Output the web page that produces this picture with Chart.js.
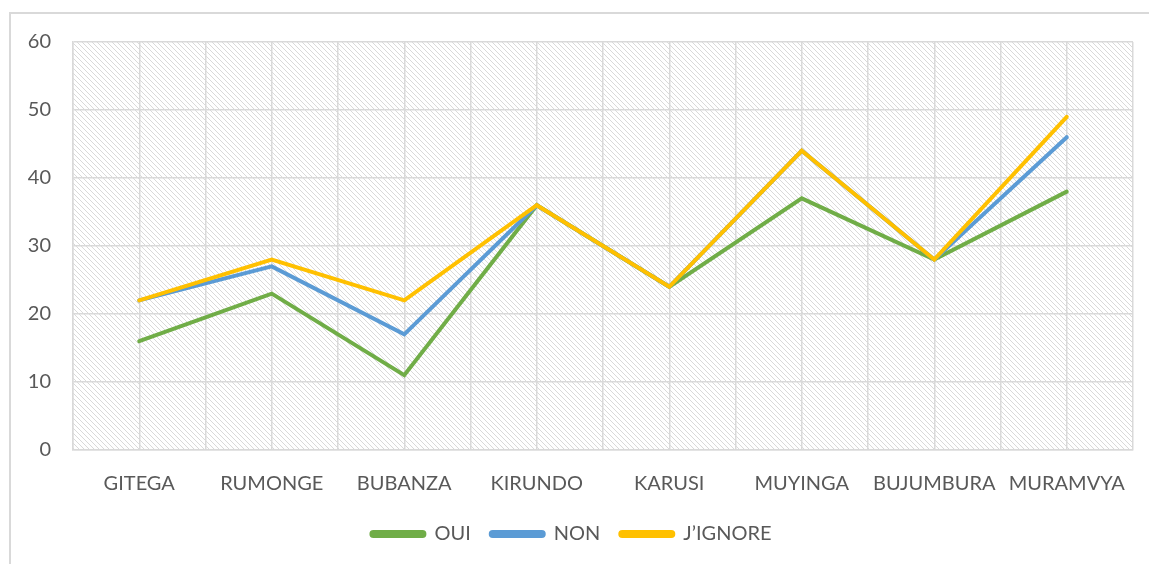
<!DOCTYPE html>
<html>
<head>
<meta charset="utf-8">
<script src="https://cdn.jsdelivr.net/npm/chart.js@4.4.1/dist/chart.umd.min.js"></script>
<style>
html,body{margin:0;padding:0;background:#fff;}
#wrap{width:1149px;height:564px;position:relative;}
</style>
</head>
<body>
<div id="wrap"><canvas id="c" width="1149" height="564"></canvas></div>
<script>
const categories = ["GITEGA","RUMONGE","BUBANZA","KIRUNDO","KARUSI","MUYINGA","BUJUMBURA","MURAMVYA"];
const seriesNames = ["OUI","NON","J\u2019IGNORE"];
const ouiValues = [16,23,11,36,24,37,28,38];
const nonValues = [22,27,17,36,24,44,28,46];
const ignoreValues = [22,28,22,36,24,44,28,49];
const seriesColors = ["#70AD47","#5B9BD5","#FFC000"];
const yTicks = [0,10,20,30,40,50,60];

function toPoints(arr){ return arr.map((v,i)=>({x:i,y:v})); }

function makePattern(){
  const s = 5;
  const p = document.createElement('canvas');
  p.width = s; p.height = s;
  const g = p.getContext('2d');
  g.fillStyle = '#ffffff'; g.fillRect(0,0,s,s);
  g.strokeStyle = '#d9d9d9'; g.lineWidth = 1;
  g.beginPath();
  g.moveTo(-1,-1); g.lineTo(s+1,s+1);
  g.moveTo(-1,s-1); g.lineTo(1,s+1);
  g.moveTo(s-1,-1); g.lineTo(s+1,1);
  g.stroke();
  return p;
}

const bgPlugin = {
  id:'bg',
  beforeDraw(chart){
    const {ctx, chartArea:a} = chart;
    ctx.save();
    ctx.fillStyle = '#fff'; ctx.fillRect(0,0,chart.width,chart.height);
    ctx.strokeStyle = '#d9d9d9'; ctx.lineWidth = 2;
    ctx.beginPath();
    ctx.moveTo(10,chart.height+2); ctx.lineTo(10,13); ctx.lineTo(chart.width+2,13);
    ctx.stroke();
    ctx.fillStyle = ctx.createPattern(makePattern(),'repeat');
    ctx.fillRect(a.left,a.top,a.right-a.left,a.bottom-a.top);
    ctx.restore();
  }
};

const datasets = [ouiValues,nonValues,ignoreValues].map((arr,k)=>({
  label: seriesNames[k],
  data: toPoints(arr),
  borderColor: seriesColors[k],
  backgroundColor: seriesColors[k],
  borderWidth: 4,
  pointRadius: 0,
  tension: 0,
  order: 2-k,
  borderCapStyle:'round',
  borderJoinStyle:'miter'
}));

const font = {family:'Lato, "Open Sans", sans-serif', size:20};

new Chart(document.getElementById('c'),{
  type:'line',
  data:{datasets},
  plugins:[bgPlugin],
  options:{
    responsive:false,
    animation:false,
    layout:{padding:{left:10,right:16,top:42,bottom:10}},
    scales:{
      x:{
        type:'linear',
        min:-0.5, max:categories.length-0.5,
        afterBuildTicks(scale){
          const t=[]; for(let v=-0.5; v<=categories.length-0.5+1e-9; v+=0.5) t.push({value:v});
          scale.ticks=t;
        },
        afterFit(scale){ scale.height = 54; scale.paddingLeft = 0; scale.paddingRight = 0; },
        grid:{color:'#d9d9d9', lineWidth:1.5, drawTicks:false},
        border:{color:'#d9d9d9', width:1.5},
        ticks:{
          autoSkip:false, maxRotation:0, minRotation:0, padding:22,
          color:'#595959', font,
          callback:(v)=> Number.isInteger(v) ? categories[v] : ''
        }
      },
      y:{
        min:0,max:60,
        afterBuildTicks(scale){ scale.ticks = yTicks.map(v=>({value:v})); },
        afterFit(scale){ scale.width = 63; },
        grid:{color:'#d9d9d9', lineWidth:1.5, drawTicks:false},
        border:{color:'#d9d9d9', width:1.5},
        ticks:{color:'#595959', font, padding:22}
      }
    },
    plugins:{
      legend:{
        position:'bottom',
        labels:{
          color:'#595959', font,
          boxWidth:53, boxHeight:4, padding:20,
          useBorderRadius:true, borderRadius:2,
          sort:(a,b)=>a.datasetIndex-b.datasetIndex
        }
      },
      tooltip:{enabled:false}
    }
  }
});
</script>
</body>
</html>
